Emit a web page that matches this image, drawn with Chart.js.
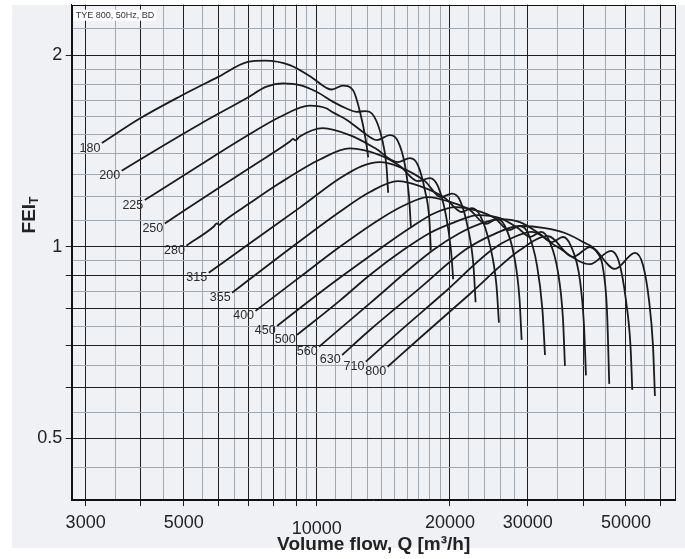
<!DOCTYPE html>
<html>
<head>
<meta charset="utf-8">
<script src="https://cdn.jsdelivr.net/npm/chart.js@4.4.1/dist/chart.umd.min.js"></script>
<style>
  html, body { margin: 0; padding: 0; background: #fff; }
</style>
</head>
<body>
<canvas id="fei" width="685" height="559"></canvas>
<script>
// fan sizes (curve labels)
const sizes = ['180', '200', '225', '250', '280', '315', '355', '400', '450', '500', '560', '630', '710', '800'];

// volume flow [m3/h] and FEI_T
const q180 = [3264, 3977, 4898, 5970, 6982, 7627, 8689, 9794, 10535, 10812, 11451, 12064, 12643, 12976, 13066];
const fei180 = [1.455, 1.590, 1.722, 1.847, 1.952, 1.961, 1.929, 1.840, 1.775, 1.766, 1.791, 1.763, 1.582, 1.434, 1.382];
const q200 = [3620, 4413, 5435, 6934, 7697, 8391, 9152, 9984, 10886, 11674, 12298, 12841, 13458, 14031, 14363, 14498];
const fei200 = [1.316, 1.431, 1.558, 1.711, 1.784, 1.806, 1.795, 1.752, 1.689, 1.649, 1.629, 1.633, 1.604, 1.481, 1.344, 1.216];
const q225 = [4082, 5435, 7056, 8245, 9642, 10535, 10812, 11691, 12643, 13669, 14628, 15250, 15820, 16149, 16319];
const fei225 = [1.184, 1.343, 1.503, 1.599, 1.666, 1.649, 1.629, 1.582, 1.519, 1.471, 1.497, 1.465, 1.344, 1.206, 1.075];
const q250 = [4530, 6032, 7056, 8689, 8839, 8940, 9152, 10317, 11876, 13530, 15250, 16234, 16924, 17549, 17970, 18108];
const fei250 = [1.088, 1.240, 1.331, 1.463, 1.477, 1.469, 1.490, 1.536, 1.497, 1.429, 1.358, 1.378, 1.344, 1.228, 1.101, 0.986];
const q280 = [5072, 5848, 5940, 6018, 6097, 7056, 8245, 10157, 11876, 13884, 15410, 16924, 18014, 18785, 19583, 20105, 20340];
const fei280 = [1.004, 1.076, 1.088, 1.082, 1.091, 1.171, 1.259, 1.371, 1.427, 1.393, 1.339, 1.268, 1.282, 1.245, 1.121, 0.988, 0.889];
const q315 = [5695, 7056, 9152, 11272, 12643, 13884, 15410, 17549, 19079, 20204, 21060, 21962, 22599, 22857];
const fei315 = [0.910, 1.013, 1.152, 1.281, 1.339, 1.358, 1.334, 1.268, 1.197, 1.212, 1.184, 1.070, 0.936, 0.818];
const q355 = [6432, 8245, 11272, 13180, 15250, 17100, 19481, 21284, 22421, 23380, 24627, 25474, 25810];
const fei355 = [0.847, 0.966, 1.135, 1.219, 1.268, 1.245, 1.193, 1.134, 1.150, 1.121, 1.006, 0.871, 0.760];
const q400 = [7267, 9152, 11272, 13884, 15820, 17829, 20000, 22190, 24118, 25541, 26627, 27907, 28721, 29049];
const fei400 = [0.793, 0.896, 1.000, 1.105, 1.163, 1.197, 1.176, 1.142, 1.086, 1.105, 1.078, 0.9705, 0.831, 0.714];
const q450 = [8132, 10157, 13180, 16234, 18490, 20629, 22781, 25276, 27189, 28790, 30018, 31459, 32373, 32809];
const fei450 = [0.751, 0.847, 0.967, 1.070, 1.130, 1.154, 1.142, 1.109, 1.062, 1.078, 1.051, 0.936, 0.796, 0.676];
const q500 = [9024, 11272, 13180, 15677, 18014, 20522, 23133, 25940, 28495, 30330, 32121, 33489, 35095, 36019, 36400];
const fei500 = [0.727, 0.823, 0.903, 0.988, 1.051, 1.093, 1.121, 1.109, 1.070, 1.036, 1.055, 1.024, 0.913, 0.773, 0.650];
const q560 = [10120, 13180, 18328, 21060, 23380, 25940, 28790, 31960, 34017, 36019, 37556, 39360, 40186, 40609];
const fei560 = [0.697, 0.815, 0.988, 1.051, 1.086, 1.105, 1.093, 1.047, 1.017, 1.036, 1.0025, 0.886, 0.754, 0.628];
const q630 = [11409, 13180, 17100, 21619, 24885, 28790, 32809, 36400, 39977, 43000, 44371, 45300, 45845];
const fei630 = [0.676, 0.740, 0.861, 0.988, 1.043, 1.078, 1.070, 1.051, 1.017, 0.981, 0.926, 0.796, 0.609];
const q710 = [12909, 15410, 19481, 24846, 27616, 30650, 34732, 41462, 46253, 48231, 50003, 51201, 51689];
const fei710 = [0.660, 0.737, 0.849, 0.988, 1.032, 1.055, 1.0025, 0.939, 0.985, 0.946, 0.825, 0.700, 0.596];
const q800 = [14454, 17100, 22190, 28790, 33315, 37947, 41462, 47230, 52422, 54645, 56379, 57567, 58156];
const fei800 = [0.648, 0.719, 0.843, 0.988, 1.039, 0.964, 0.999, 0.923, 0.978, 0.936, 0.825, 0.700, 0.583];

const qSeries = [q180, q200, q225, q250, q280, q315, q355, q400, q450, q500, q560, q630, q710, q800];
const feiSeries = [fei180, fei200, fei225, fei250, fei280, fei315, fei355, fei400, fei450, fei500, fei560, fei630, fei710, fei800];

// grid and tick labels
const xGrid = [3000, 3500, 4000, 4500, 5000, 5500, 6000, 6500, 7000, 7500, 8000, 8500, 9000, 9500, 10000,
  11000, 12000, 13000, 14000, 15000, 16000, 17000, 18000, 19000, 20000,
  22000, 24000, 26000, 28000, 30000, 35000, 40000, 45000, 50000, 55000, 60000];
const xMajor = [3000, 4000, 5000, 6000, 7000, 8000, 9000, 10000, 20000, 30000, 40000, 50000, 60000];
const xLabels = [3000, 5000, 10000, 20000, 30000, 50000];
const yGrid = [0.45, 0.5, 0.55, 0.6, 0.65, 0.7, 0.75, 0.8, 0.85, 0.9, 0.95, 1,
  1.1, 1.2, 1.3, 1.4, 1.5, 1.6, 1.7, 1.8, 1.9, 2, 2.2];
const yMajor = [0.5, 0.6, 0.7, 0.8, 0.9, 1, 2];
const yLabels = [0.5, 1, 2];

const FONT = "'Liberation Sans', Arial, sans-serif";
const GRID_GRAY = '#a1a8b0';
const GRID_DARK = '#1f1f1f';

const decor = {
  id: 'decor',
  beforeDraw(chart) {
    const c = chart.ctx;
    c.save();
    c.fillStyle = '#ffffff';
    c.fillRect(0, 0, chart.width, chart.height);
    c.fillStyle = '#eff1f4';
    c.fillRect(12, 5, chart.width - 12, 543);
    c.restore();
  },
  afterDatasetsDraw(chart) {
    const c = chart.ctx;
    const a = chart.chartArea;
    c.save();
    // frame
    c.strokeStyle = '#111';
    c.lineWidth = 1;
    c.strokeRect(Math.round(a.left) + 0.5, Math.round(a.top) + 0.5,
      Math.round(a.right) - Math.round(a.left) - 1, Math.round(a.bottom) - Math.round(a.top) - 1);
    // caption
    c.font = '9px ' + FONT;
    const cap = 'TYE 800, 50Hz, BD';
    const w = c.measureText(cap).width;
    c.fillStyle = '#ffffff';
    c.fillRect(a.left + 2, a.top + 5, w + 4, 11);
    c.fillStyle = '#333';
    c.textBaseline = 'middle';
    c.textAlign = 'left';
    c.fillText(cap, a.left + 4, a.top + 10.5);
    // size labels at the start of every curve
    c.font = '12.5px ' + FONT;
    c.textAlign = 'right';
    c.fillStyle = '#2b2b2b';
    chart.data.datasets.forEach((ds, i) => {
      const p = chart.getDatasetMeta(i).data[0];
      c.fillText(sizes[i], p.x - 1.5, p.y + 5);
    });
    // y title with subscript
    c.translate(30, 215);
    c.rotate(-Math.PI / 2);
    c.fillStyle = '#222';
    c.font = 'bold 19px ' + FONT;
    const wMain = c.measureText('FEI').width;
    c.font = 'bold 12px ' + FONT;
    const wSub = c.measureText('T').width;
    const x0 = -(wMain + wSub) / 2;
    c.textAlign = 'left';
    c.textBaseline = 'middle';
    c.font = 'bold 19px ' + FONT;
    c.fillText('FEI', x0, 0);
    c.font = 'bold 12px ' + FONT;
    c.fillText('T', x0 + wMain, 5);
    c.restore();
  }
};

const datasets = sizes.map((s, i) => ({
  label: s,
  data: qSeries[i].map((q, k) => ({ x: q, y: feiSeries[i][k] })),
  borderColor: '#1b1b1b',
  borderWidth: 1.8,
  pointRadius: 0,
  cubicInterpolationMode: 'monotone',
  fill: false
}));

new Chart(document.getElementById('fei'), {
  type: 'line',
  data: { datasets: datasets },
  plugins: [decor],
  options: {
    responsive: false,
    animation: false,
    layout: { padding: { left: 12, right: 9.3, top: 4.7, bottom: 0 } },
    plugins: { legend: { display: false }, tooltip: { enabled: false } },
    scales: {
      x: {
        type: 'logarithmic',
        min: 2790,
        max: 64800,
        afterBuildTicks: axis => { axis.ticks = xGrid.map(v => ({ value: v })); },
        afterFit: axis => { axis.height = 58.9; axis.paddingLeft = 0; axis.paddingRight = 0; },
        border: { display: true, color: '#111', width: 1 },
        grid: {
          color: ctx => xMajor.includes(ctx.tick.value) ? GRID_DARK : GRID_GRAY,
          tickColor: ctx => xMajor.includes(ctx.tick.value) ? GRID_DARK : 'rgba(0,0,0,0)',
          lineWidth: 1,
          tickLength: 6
        },
        ticks: {
          autoSkip: false,
          maxRotation: 0,
          minRotation: 0,
          padding: 6,
          color: '#222',
          font: ctx => ({ family: FONT, size: 18, lineHeight: ctx.tick && ctx.tick.value === 10000 ? 1.9 : 1.2 }),
          callback: v => xLabels.includes(v) ? String(v) : ''
        },
        title: {
          display: true,
          text: 'Volume flow, Q [m³/h]',
          color: '#222',
          font: { family: FONT, size: 19, weight: 'bold' },
          padding: { top: 0, bottom: 2.6 }
        }
      },
      y: {
        type: 'logarithmic',
        min: 0.4,
        max: 2.4,
        afterBuildTicks: axis => { axis.ticks = yGrid.map(v => ({ value: v })); },
        afterFit: axis => { axis.width = 59.7; axis.paddingTop = 0; axis.paddingBottom = 0; },
        border: { display: true, color: '#111', width: 1 },
        grid: {
          color: ctx => yMajor.includes(ctx.tick.value) ? GRID_DARK : GRID_GRAY,
          tickColor: ctx => yMajor.includes(ctx.tick.value) ? GRID_DARK : 'rgba(0,0,0,0)',
          lineWidth: 1,
          tickLength: 6
        },
        ticks: {
          autoSkip: false,
          padding: 3.4,
          color: '#222',
          font: { family: FONT, size: 18 },
          callback: v => yLabels.includes(v) ? String(v) : ''
        }
      }
    }
  }
});
</script>
</body>
</html>
